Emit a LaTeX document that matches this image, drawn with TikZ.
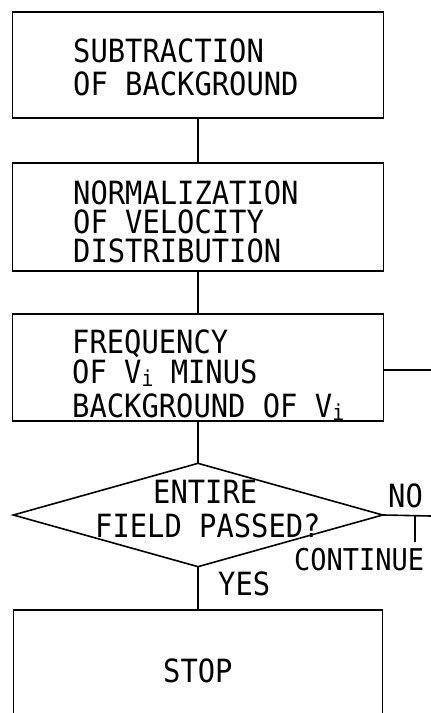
\documentclass[tikz,border=0pt]{standalone}
\usepackage{fontspec}
\newfontfamily\plotfont[FakeStretch=0.9]{DejaVu Sans Mono}
\usetikzlibrary{shapes.geometric}
\newcommand{\subi}{\raisebox{-3pt}{\fontsize{22}{22}\selectfont i}}
\tikzset{
  x=1pt, y=-1pt,
  line/.style={line width=1.6pt, line cap=rect},
  box/.style={draw, line width=1.6pt, rectangle, inner sep=0pt, minimum width=371pt},
  dec/.style={draw, line width=1.6pt, diamond, inner sep=0pt, minimum width=370pt, minimum height=104pt},
  txt/.style={anchor=base west, inner sep=0pt, font=\plotfont\fontsize{32}{32}\selectfont}
}
\begin{document}
\begin{tikzpicture}
\useasboundingbox (0,0) rectangle (431,713);
% boxes
\node[box, minimum height=106pt] (b1) at (198,65) {};
\node[box, minimum height=108pt] (b2) at (198,217) {};
\node[box, minimum height=107pt] (b3) at (198,367.5) {};
\node[dec] (d) at (198,515) {};
\node[box, minimum width=369pt, minimum height=160pt, anchor=north] (stop) at (198,609) {};
% texts
\node[txt] (t11) at (73,62) {SUBTRACTION};
\node[txt] (t12) at (73,95) {OF BACKGROUND};
\node[txt] (t21) at (73,204) {NORMALIZATION};
\node[txt] (t22) at (73,233) {OF VELOCITY};
\node[txt] (t23) at (73,262) {DISTRIBUTION};
\node[txt] (t31) at (72,353) {FREQUENCY};
\node[txt] (t32) at (72,383) {OF V\subi{} MINUS};
\node[txt] (t33) at (72,417) {BACKGROUND OF V\subi};
\node[txt] (td1) at (153,503) {ENTIRE};
\node[txt] (td2) at (95,537) {FIELD PASSED?};
\node[txt] (tno) at (388,507) {NO};
\node[txt, font=\plotfont\fontsize{30}{30}\selectfont] (tcont) at (294,570) {CONTINUE};
\node[txt] (tyes) at (218,595) {YES};
\node[txt] (tstop) at (163,682) {STOP};
% connectors
\coordinate (r1) at (431,370);
\coordinate (r2) at (431,516);
\coordinate (tk1) at (415,516);
\coordinate (tk2) at (415,541);
\draw[line] (b1.south) -- (b2.north);
\draw[line] (b2.south) -- (b3.north);
\draw[line] (b3.south) -- (d.north);
\draw[line] (b3.east |- r1) -- (r1);
\draw[line] (d.east) -- (r2);
\draw[line] (tk1) -- (tk2);
\draw[line] (d.south) -- (stop.north);
\end{tikzpicture}
\end{document}
